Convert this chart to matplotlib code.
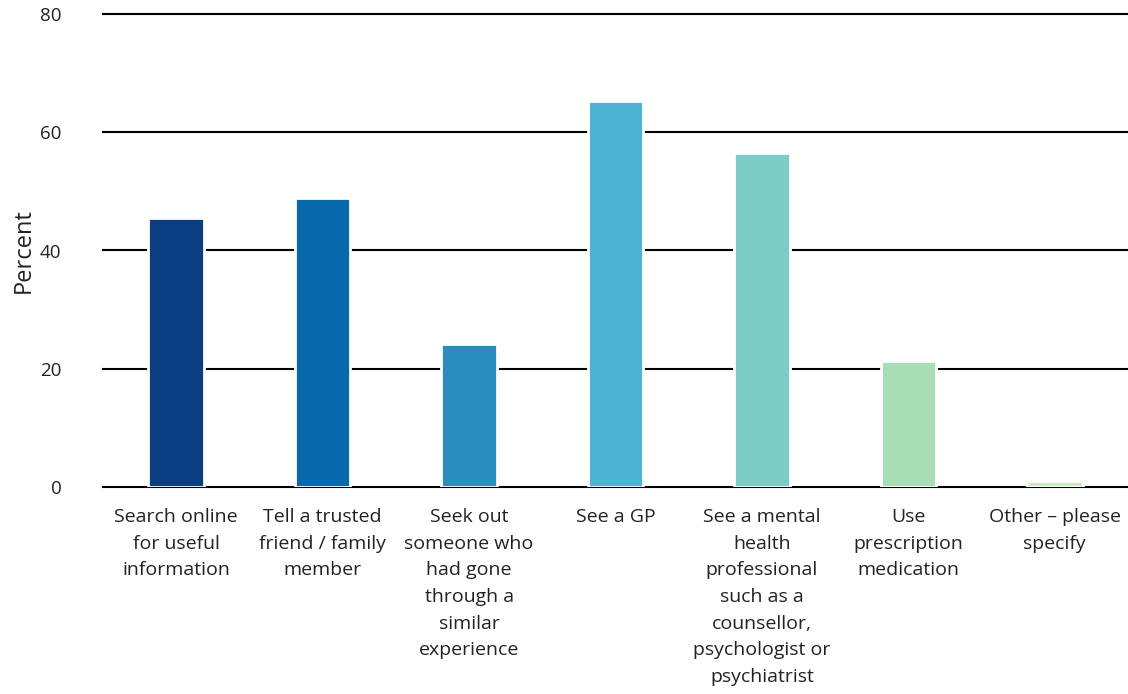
import matplotlib.pyplot as plt

# data
categories = [
    "Search online\nfor useful\ninformation",
    "Tell a trusted\nfriend / family\nmember",
    "Seek out\nsomeone who\nhad gone\nthrough a\nsimilar\nexperience",
    "See a GP",
    "See a mental\nhealth\nprofessional\nsuch as a\ncounsellor,\npsychologist or\npsychiatrist",
    "Use\nprescription\nmedication",
    "Other \u2013 please\nspecify",
]
percent = [45.5, 48.9, 24.2, 65.3, 56.5, 21.3, 1.0]
colors = ["#0a3e80", "#0868ac", "#2b8cbe", "#4eb3d3", "#7bccc4", "#a8ddb5", "#ccebc5"]
yticks = [0, 20, 40, 60, 80]

plt.rcParams["font.family"] = ["Open Sans", "DejaVu Sans"]

fig = plt.figure(figsize=(11.28, 6.94), dpi=100)
ax = fig.add_axes([103 / 1128, 1 - 487 / 694, 1 - 103 / 1128, (487 - 14) / 694])

x = range(len(categories))
ax.bar(x, percent, width=0.38, color=colors, edgecolor="white", linewidth=2, zorder=3)

ax.set_xlim(-0.5, len(categories) - 0.5)
ax.set_ylim(0, 80)
ax.set_yticks(yticks)
ax.yaxis.grid(True, color="black", linewidth=1.5, zorder=1)
for gl in ax.get_ygridlines():
    gl.set_clip_on(False)
ax.set_axisbelow(True)
for s in ax.spines.values():
    s.set_visible(False)

ax.set_xticks(list(x))
ax.set_xticklabels(categories, fontsize=14, color="#222222", linespacing=1.62, va="top")
ax.tick_params(axis="x", length=0, pad=15)
ax.tick_params(axis="y", length=0, pad=30, labelsize=13.5, labelcolor="#222222")
ax.set_ylabel("Percent", fontsize=17, color="#222222", labelpad=3)

fig.savefig("out.png", dpi=100)
